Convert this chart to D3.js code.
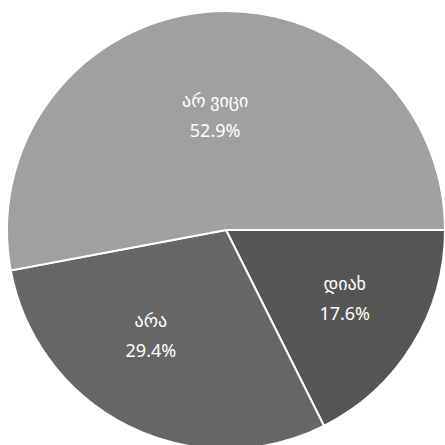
<!DOCTYPE html>
<html>
<head>
<meta charset="utf-8">
<script src="https://cdn.jsdelivr.net/npm/d3@7"></script>
<style>
  body { margin: 0; background: #fff; }
  text { font-family: "Noto Sans", "DejaVu Sans", sans-serif; }
</style>
</head>
<body>
<div id="canvas"></div>
<script>
// data
const answers = ["დიახ", "არა", "არ ვიცი"];
const shares = [17.6, 29.4, 52.9];

// look
const sliceColours = ["#555555", "#666666", "#a0a0a0"];
const labelRadius = [0.62, 0.585, 0.535];
const labelAngleShift = [-0.047, 0.166, 0];

const width = 445, height = 445,
    cx = 226, cy = 230,
    radius = 219;

const svg = d3.select("#canvas")
    .append("svg")
    .attr("width", width)
    .attr("height", height);

const g = svg.append("g")
    .attr("transform", "translate(" + cx + "," + cy + ")");

const pie = d3.pie()
    .sort(null)
    .startAngle(Math.PI / 2)
    .endAngle(Math.PI / 2 + 2 * Math.PI)
    .value(d => d);

const arcs = pie(shares);

const arc = d3.arc()
    .innerRadius(0)
    .outerRadius(radius);

g.selectAll("path")
    .data(arcs)
    .join("path")
    .attr("d", arc)
    .attr("fill", (d, i) => sliceColours[i])
    .attr("stroke", "#fff")
    .attr("stroke-width", 2);

// labels
const label = g.selectAll(".label")
    .data(arcs)
    .join("text")
    .attr("class", "label")
    .attr("text-anchor", "middle")
    .attr("fill", "#fff")
    .attr("font-size", 18)
    .attr("transform", (d, i) => {
        const r = radius * labelRadius[i];
        const a = (d.startAngle + d.endAngle) / 2 + labelAngleShift[i];
        return "translate(" + (r * Math.sin(a)) + "," + (-r * Math.cos(a)) + ")";
    });

label.append("tspan")
    .attr("x", 0)
    .attr("dy", "-0.35em")
    .text((d, i) => answers[i]);

label.append("tspan")
    .attr("x", 0)
    .attr("dy", 30)
    .text(d => d.value.toFixed(1) + "%");
</script>
</body>
</html>
